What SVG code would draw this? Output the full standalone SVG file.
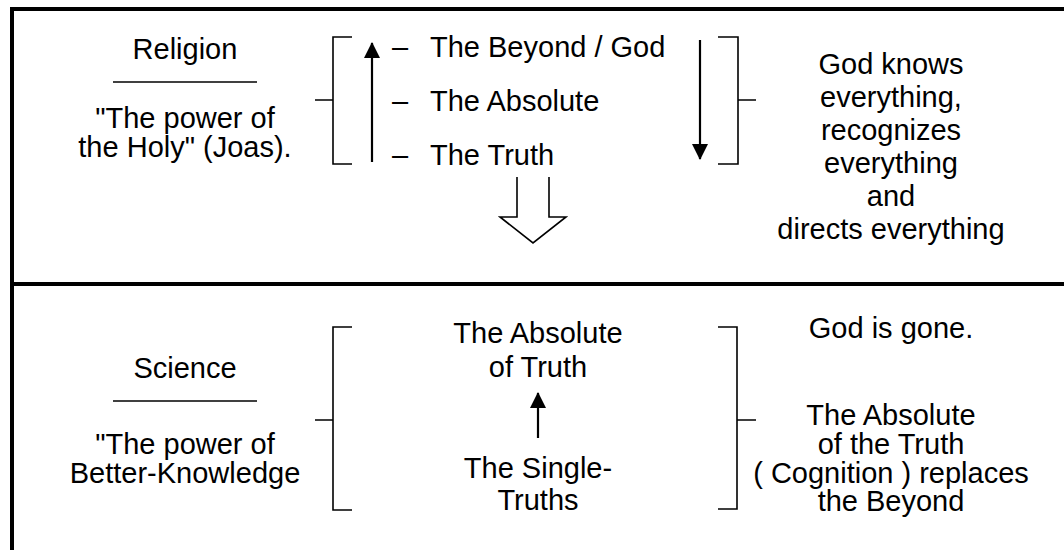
<svg xmlns="http://www.w3.org/2000/svg" width="1064" height="550" viewBox="0 0 1064 550">
<style>
text{font-family:"Liberation Sans",Arial,sans-serif;font-size:29px;fill:#000}
.c{text-anchor:middle}
.frame{stroke:#000;stroke-width:4;fill:none}
.br{stroke:#000;stroke-width:1.6;fill:none}
.rule{stroke:#000;stroke-width:1.6}
.ar{stroke:#000;stroke-width:2.2;fill:none}
.hollow{stroke:#000;stroke-width:1.6;fill:#fff}
</style>
<defs>
<marker id="head" markerUnits="userSpaceOnUse" markerWidth="16" markerHeight="16" viewBox="0 0 16 16" refX="15" refY="8" orient="auto">
<path d="M0,0 L16,8 L0,16 z" fill="#000"/>
</marker>
</defs>
<rect width="1064" height="550" fill="#fff"/>
<g id="frame">
<path class="frame" d="M10,9 H1064 M10,284 H1064 M12,7 V550"/>
</g>
<g id="religion">
<text class="c" x="185" y="59">Religion</text>
<line class="rule" x1="113" y1="82" x2="257" y2="82"/>
<text class="c" x="185" y="128">"The power of</text>
<text class="c" x="185" y="157">the Holy" (Joas).</text>
</g>
<g id="religion-hierarchy">
<text x="392" y="57">–</text>
<text x="430" y="57">The Beyond / God</text>
<text x="392" y="111">–</text>
<text x="430" y="111">The Absolute</text>
<text x="392" y="165">–</text>
<text x="430" y="165">The Truth</text>
</g>
<g id="religion-desc">
<text class="c" x="891" y="74">God knows</text>
<text class="c" x="891" y="107">everything,</text>
<text class="c" x="891" y="140">recognizes</text>
<text class="c" x="891" y="173">everything</text>
<text class="c" x="891" y="206">and</text>
<text class="c" x="891" y="239">directs everything</text>
</g>
<g id="science">
<text class="c" x="185" y="378">Science</text>
<line class="rule" x1="113" y1="401" x2="257" y2="401"/>
<text class="c" x="185" y="454">"The power of</text>
<text class="c" x="185" y="483">Better-Knowledge</text>
</g>
<g id="science-hierarchy">
<text class="c" x="538" y="343">The Absolute</text>
<text class="c" x="538" y="377">of Truth</text>
<text class="c" x="538" y="478">The Single-</text>
<text class="c" x="538" y="510">Truths</text>
</g>
<g id="science-desc">
<text class="c" x="891" y="338">God is gone.</text>
<text class="c" x="891" y="425">The Absolute</text>
<text class="c" x="891" y="454">of the Truth</text>
<text class="c" x="891" y="483">( Cognition ) replaces</text>
<text class="c" x="891" y="511">the Beyond</text>
</g>
<g id="connectors">
<path class="br" d="M352,37 H333 V164 H352 M315,100 H333"/>
<path class="br" d="M718,37 H738 V164 H718 M738,100 H756"/>
<path class="br" d="M352,327 H333 V510 H352 M315,420 H333"/>
<path class="br" d="M718,327 H737 V509 H718 M737,420 H756"/>
<line class="ar" x1="372" y1="162" x2="372" y2="43" marker-end="url(#head)"/>
<line class="ar" x1="700" y1="40" x2="700" y2="159" marker-end="url(#head)"/>
<line class="ar" x1="538" y1="438" x2="538" y2="393" marker-end="url(#head)"/>
<polyline class="hollow" points="517,177 517,217 500,217 533,243 566,217 549,217 549,177"/>
</g>
</svg>
